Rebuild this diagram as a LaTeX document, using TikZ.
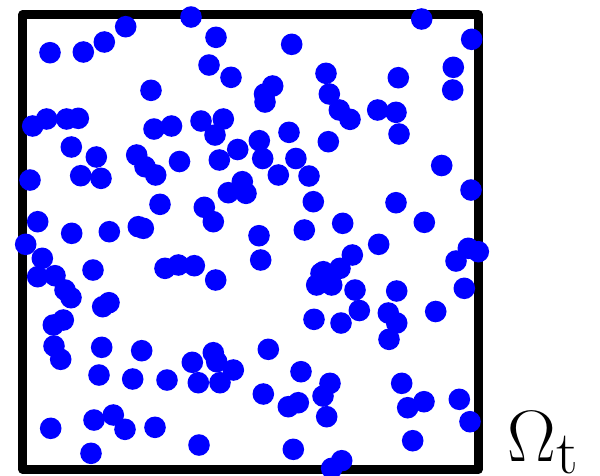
\documentclass[tikz,border=0pt]{standalone}
\begin{document}
\begin{tikzpicture}[x=1pt,y=-1pt,
  frame/.style={line width=8.7pt,line join=round,draw=black},
  particle/.style={fill=blue}]
\useasboundingbox (0,0) rectangle (600,475);
\draw[frame] (22.8,14.5) rectangle (478.3,469.5);
\foreach \x/\y in {
125.7/26.7, 104.3/42, 83.3/52, 50/52.7, 151/90.3, 32.7/126, 46.7/119, 66.7/119, 78.3/118.3,
154/129, 171.5/126, 71.3/147, 96.3/157, 136.7/155, 145/166.7, 155.7/175,
191/17, 216/37.3, 291.7/44.3, 209/65, 231/77.3, 272.7/86, 264.5/94, 265/102,
201/121, 223.3/119, 215/135, 237.7/149.5, 259.3/140.7, 262.7/158.5, 289/132.3, 295.9/158.5, 328.3/141.7,
179.5/161.5, 219.3/160, 278.3/175, 309/176, 242.3/181.7, 228.3/192.7, 246/193.3,
421.7/19, 471.7/39.3, 453.3/67.3, 452.7/90, 398.3/77.7, 326/73.3, 329.3/94, 339.3/110, 350/119.3,
377.7/110, 396/112.3, 399/134, 441.7/165.5,
30/180, 80.7/175.7, 101/178.3, 160/204.3, 37.7/221.7, 71.7/233.3, 109.3/231.7, 138.3/226.7, 143.3/228.3,
25.7/244.3, 42.3/258.3, 37.7/276.7, 55/275.7, 65/290, 71/297.7, 93/270, 109/302.7, 102.7/306.7,
204.3/207.3, 213.3/221.7, 313.3/201.7, 304.3/230, 259/235.7, 260.7/260,
165/268.3, 178.3/265, 194.3/265.7, 215.7/280, 321/273.3, 316.7/285,
471/190, 396/202.7, 342.7/223.3, 424.3/222.3, 378.7/244.3, 352.3/255, 340/268.3, 323.3/271.7, 331.7/285,
355/290, 396.7/291, 359.3/310.5, 388.3/313, 396.7/323, 341/323, 435.7/311.5, 464.3/288.3, 456/261, 468.3/248.3, 478.3/251.7,
63.3/320, 53.3/325, 54/346, 60.7/359.3, 101.7/347.3, 141.7/350.7, 99/375, 132.7/379, 167/380,
50.7/428.3, 94/420, 113.3/415, 125/429.3, 155/427.3, 91/453.3,
314/319.3, 268.3/349.3, 192.3/362.3, 213.3/352.7, 216.7/361.7, 233.3/370, 198.3/382.7, 220/382.7,
263.3/394, 301/371.7, 288.3/406.7, 298.3/402.7, 330/383.3, 323/396, 326.7/416.7, 199/445, 293.3/449.3,
389/339.3, 401.7/383.3, 407.7/407.7, 424/401.7, 459.3/399.3, 470/421.7, 412.7/440.7, 341.7/460.7, 331.7/468.3}
  \fill[particle] (\x,\y) circle[radius=10.8];
\node[anchor=base west,inner sep=0pt,scale=2.93] (label) at (507,461)
  {\Huge$\Omega_{\mathrm{t}}$};
\end{tikzpicture}
\end{document}
